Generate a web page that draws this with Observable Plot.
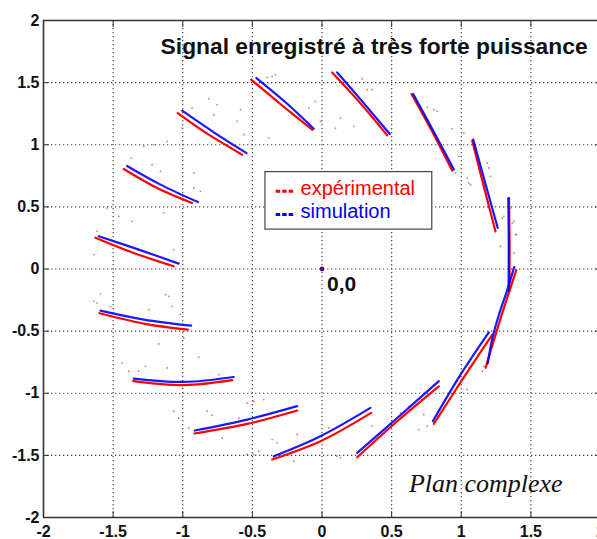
<!DOCTYPE html>
<html><head><meta charset="utf-8">
<script src="https://cdn.jsdelivr.net/npm/d3@7"></script>
<script src="https://cdn.jsdelivr.net/npm/@observablehq/plot@0.6"></script>
<style>body{margin:0;background:#fff;overflow:hidden}</style>
</head><body><div id="chart"></div>
<script>
const axisTicks = [-2, -1.5, -1, -0.5, 0, 0.5, 1, 1.5, 2];
const gridTicks = [-1.5, -1, -0.5, 0, 0.5, 1, 1.5];
const titleText = "Signal enregistré à très forte puissance";
const cornerText = "Plan complexe";
const originLabel = "0,0";
const legendLabels = ["expérimental", "simulation"];
const origin = [[0, 0]];

// experimental (red) arc segments
const expSegments = [
  [[-1.627,0.252],[-1.352,0.129],[-1.065,0.022]],
  [[-1.424,0.805],[-1.184,0.652],[-0.933,0.531]],
  [[-1.036,1.255],[-0.813,1.081],[-0.573,0.920]],
  [[-0.509,1.524],[-0.29,1.32],[-0.070,1.121]],
  [[0.073,1.582],[0.264,1.349],[0.468,1.076]],
  [[0.643,1.408],[0.79,1.108],[0.935,0.792]],
  [[1.079,1.033],[1.160,0.673],[1.246,0.303]],
  [[1.343,0.571],[1.347,0.2],[1.346,-0.179]],
  [[1.395,-0.01],[1.345,-0.18],[1.29,-0.37],[1.235,-0.57],[1.175,-0.795]],
  [[1.223,-0.528],[1.019,-0.871],[0.803,-1.247]],
  [[0.253,-1.515],[0.540,-1.225],[0.839,-0.944]],
  [[-0.358,-1.533],[-0.011,-1.386],[0.353,-1.158]],
  [[-0.916,-1.324],[-0.537,-1.247],[-0.178,-1.139]],
  [[-1.356,-0.903],[-0.993,-0.935],[-0.645,-0.895]],
  [[-1.598,-0.356],[-1.280,-0.439],[-0.964,-0.488]]
];
// simulation (blue) arc segments
const simSegments = [
  [[-1.603,0.263],[-1.316,0.156],[-1.029,0.043]],
  [[-1.400,0.829],[-1.160,0.679],[-0.892,0.539]],
  [[-1.004,1.274],[-0.777,1.100],[-0.542,0.933]],
  [[-0.471,1.537],[-0.26,1.34],[-0.059,1.129]],
  [[0.109,1.582],[0.289,1.349],[0.487,1.086]],
  [[0.655,1.408],[0.80,1.11],[0.947,0.800]],
  [[1.086,1.041],[1.175,0.681],[1.262,0.330]],
  [[1.338,0.571],[1.341,0.2],[1.340,-0.179]],
  [[1.38,0.015],[1.327,-0.18],[1.27,-0.37],[1.225,-0.55],[1.19,-0.76]],
  [[1.198,-0.510],[0.995,-0.850],[0.796,-1.225]],
  [[0.253,-1.480],[0.540,-1.199],[0.839,-0.903]],
  [[-0.346,-1.507],[-0.011,-1.346],[0.348,-1.118]],
  [[-0.914,-1.300],[-0.537,-1.212],[-0.178,-1.104]],
  [[-1.352,-0.882],[-0.993,-0.909],[-0.634,-0.869]],
  [[-1.591,-0.335],[-1.280,-0.407],[-0.940,-0.456]]
];
// scattered experimental samples
const scatter = [
  [-1.639,0.116],[-1.615,0.303],[-1.543,0.491],[-1.460,0.424],[-1.364,0.384],[-1.369,0.893],
  [-1.280,0.987],[-1.220,0.840],[-1.208,1.001],[-1.160,0.786],[-1.137,0.451],[-1.112,1.027],
  [-1.065,0.156],[-1.005,1.134],[-0.968,1.202],[-0.933,1.295],[-0.921,0.772],[-0.921,0.652],
  [-0.873,0.625],[-0.813,1.371],[-0.777,1.242],[-0.753,1.323],[-0.609,1.188],[-0.585,1.282],
  [-0.562,1.081],[-0.382,1.054],[-0.358,1.550],[-0.334,1.564],[-0.394,1.542],
  [-0.095,1.295],[-0.047,1.349],[-0.011,1.188],[0.097,1.134],[0.133,1.215],[0.229,1.148],
  [0.289,1.532],[0.325,1.443],[0.361,1.443],[0.420,1.496],[0.756,1.301],[0.803,1.282],
  [0.828,1.269],[0.935,1.130],[0.983,0.907],[1.019,1.094],[1.043,0.732],[1.055,0.692],
  [1.187,0.853],[1.198,0.813],[1.210,0.746],[1.282,0.183],[1.294,0.410],[1.354,0.491],
  [1.378,0.384],[1.390,0.277],[0.959,0.772],[1.067,0.679],[1.306,0.424],[1.366,0.370],
  [1.378,0.129],[1.397,0.277],[1.162,-0.783],
  [-1.639,-0.260],[-1.615,-0.274],[-1.591,-0.201],[-1.519,-0.300],[-1.244,-0.327],[-1.124,-0.206],
  [-1.101,-0.220],[-1.076,-0.300],[-1.017,-0.367],[-0.993,-0.555],[-1.172,-0.603],[-0.885,-0.710],
  [-1.435,-0.756],[-1.388,-0.823],[-1.316,-0.823],[-1.268,-0.783],[-1.112,-0.796],[-0.741,-0.850],
  [-1.065,-1.145],[-1.029,-1.199],[-0.957,-1.279],[-0.825,-1.145],[-0.789,-1.177],[-0.717,-1.360],
  [-0.598,-1.199],[-0.537,-1.078],[-0.490,-1.064],[-0.418,-1.051],[-0.537,-1.493],[-0.490,-1.493],
  [-0.454,-1.467],[-0.358,-1.373],[-0.322,-1.400],[-0.203,-1.547],[-0.178,-1.332],
  [0.049,-1.279],[0.109,-1.507],[0.133,-1.520],[0.361,-1.265],[0.564,-1.158],[0.624,-1.105],
  [0.695,-1.292],[0.731,-1.171],[0.756,-1.265],[0.971,-0.903],[1.043,-0.970],[1.151,-0.823],
  [1.055,-0.796]
];

const toRows = segs => segs.flatMap((s, i) => s.map(([x, y]) => ({seg: i, x, y})));
const expRows = toRows(expSegments);
const simRows = toRows(simSegments);
const legendRows = [
  {label: legendLabels[0], color: "#ff0000", y: 0.625, ty: 0.65},
  {label: legendLabels[1], color: "#0000ff", y: 0.438, ty: 0.462}
];

const fmt = d => String(d);
const axisColor = "#333";
const tickFont = {fontSize: 16, fontWeight: "bold", fill: "#111"};

const chart = Plot.plot({
  width: 597,
  height: 539,
  marginLeft: 43,
  marginRight: 0,
  marginTop: 20,
  marginBottom: 22,
  x: {domain: [-2, 2], range: [43, 600]},
  y: {domain: [-2, 2]},
  style: {fontFamily: "'Liberation Sans', Arial, sans-serif", background: "#fff"},
  marks: [
    Plot.gridX(gridTicks, {stroke: "#444", strokeOpacity: 1, strokeWidth: 1.2, strokeDasharray: "1.3,2.7"}),
    Plot.gridY(gridTicks, {stroke: "#444", strokeOpacity: 1, strokeWidth: 1.2, strokeDasharray: "1.3,2.7"}),
    Plot.axisX(axisTicks, {anchor: "bottom", tickSize: 0, tickPadding: 8, tickFormat: fmt, label: null, ...tickFont}),
    Plot.axisY(axisTicks, {anchor: "left", tickSize: 0, tickPadding: 4, tickFormat: fmt, label: null, ...tickFont}),
    Plot.axisX(gridTicks, {anchor: "bottom", tickSize: -6, tickFormat: () => "", label: null, stroke: axisColor}),
    Plot.axisX(gridTicks, {anchor: "top", tickSize: -6, tickFormat: () => "", label: null, stroke: axisColor}),
    Plot.axisY(gridTicks, {anchor: "left", tickSize: -6, tickFormat: () => "", label: null, stroke: axisColor}),
    Plot.axisY(gridTicks, {anchor: "right", tickSize: -3, tickFormat: () => "", label: null, stroke: axisColor}),
    Plot.ruleY([-2, 2], {stroke: axisColor, strokeWidth: 1.6}),
    Plot.ruleX([-2], {stroke: axisColor, strokeWidth: 1.6}),
    Plot.dot(scatter, {x: d => d[0], y: d => d[1], r: 0.9, fill: "#f04848", fillOpacity: 0.8}),
    Plot.line(expRows, {x: "x", y: "y", z: "seg", stroke: "#ff0000", strokeWidth: 2.2, curve: "catmull-rom"}),
    Plot.line(simRows, {x: "x", y: "y", z: "seg", stroke: "#0000ff", strokeWidth: 2.2, curve: "catmull-rom", strokeOpacity: 0.9}),
    Plot.dot(origin, {x: d => d[0], y: d => d[1], r: 2.4, fill: "#4b1070"}),
    Plot.text([originLabel], {x: 0, y: 0, text: d => d, dx: 5, dy: 15, textAnchor: "start", lineAnchor: "middle", fontSize: 21, fontWeight: "bold", fill: "#111"}),
    Plot.text([titleText], {x: 0.374, y: 1.792, text: d => d, textAnchor: "middle", lineAnchor: "middle", fontSize: 22.8, fontWeight: "bold", fill: "#111"}),
    Plot.text([cornerText], {x: 0.624, y: -1.724, text: d => d, textAnchor: "start", lineAnchor: "middle", fontSize: 26, fontStyle: "italic", fontFamily: "'Liberation Serif', 'Times New Roman', serif", fill: "#111"}),
    Plot.rect([0], {x1: -0.406, x2: 0.792, y1: 0.317, y2: 0.780, fill: "#fff", stroke: "#444", strokeWidth: 1.2}),
    Plot.ruleY(legendRows, {y: "y", x1: -0.329, x2: -0.190, stroke: "color", strokeWidth: 3, strokeDasharray: "4.5,2"}),
    Plot.text(legendRows, {x: -0.154, y: "ty", text: "label", fill: "color", textAnchor: "start", lineAnchor: "middle", fontSize: 20})
  ]
});
document.getElementById("chart").append(chart);
</script>
</body></html>
